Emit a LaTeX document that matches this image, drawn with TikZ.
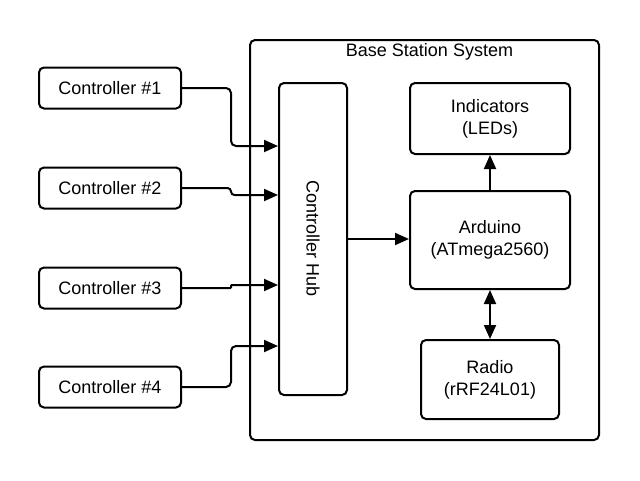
\documentclass[tikz,border=0pt]{standalone}
\usepackage{fontspec}
\setmainfont{Liberation Sans}
\usetikzlibrary{arrows.meta,calc}
\begin{document}
\begin{tikzpicture}[x=1pt,y=-1pt,
  every node/.style={font=\fontsize{18}{22}\selectfont},
  box/.style={draw=black,line width=2pt,rounded corners=5pt,align=center,inner sep=0pt},
  conn/.style={draw=black,line width=2pt,rounded corners=5pt,-{Triangle[length=14pt,width=12pt]}},
  conn2/.style={draw=black,line width=2pt,{Triangle[length=14pt,width=12pt]}-{Triangle[length=14pt,width=12pt]}}]
\useasboundingbox (0,0) rectangle (640,480);
\fill[white] (0,0) rectangle (640,480);
% outer system box
\node[box,minimum width=349pt,minimum height=400pt] (sys) at (424.5,240) {};
\node[inner sep=0pt] (title) at (429.5,52) {Base Station System};
% controllers
\node[box,minimum width=142pt,minimum height=41pt] (c1) at (110,88) {Controller \#1};
\node[box,minimum width=142pt,minimum height=41pt] (c2) at (110,188) {Controller \#2};
\node[box,minimum width=142pt,minimum height=41pt] (c3) at (110,288) {Controller \#3};
\node[box,minimum width=142pt,minimum height=41pt] (c4) at (110,387) {Controller \#4};
% hub
\node[box,minimum width=68pt,minimum height=312pt] (hub) at (313,239) {};
\node[rotate=-90,inner sep=0pt] (hubtext) at (hub.center) {Controller Hub};
% right side
\node[box,minimum width=160pt,minimum height=71pt] (ind) at (490,118.5) {Indicators\\(LEDs)};
\node[box,minimum width=160pt,minimum height=98pt] (ard) at (490,240) {Arduino\\(ATmega2560)};
\node[box,minimum width=138pt,minimum height=79pt] (rad) at (490,379.5) {Radio\\(rRF24L01)};
% connectors
\draw[conn] (c1.east) -- ++(49,0) |- ($(hub.north west)+(0,64)$);
\draw[conn,rounded corners=3.5pt] (c2.east) -- ++(49,0) |- ($(hub.north west)+(0,113)$);
\draw[conn,rounded corners=0.8pt] (c3.east) -- ++(49,0) |- ($(hub.north west)+(0,203)$);
\draw[conn] (c4.east) -- ++(49,0) |- ($(hub.north west)+(0,264)$);
\draw[conn] (hub.east) -- (ard.west |- hub.east);
\draw[conn] (ard.north) -- (ind.south);
\draw[conn2] (ard.south) -- (rad.north);
\end{tikzpicture}
\end{document}
